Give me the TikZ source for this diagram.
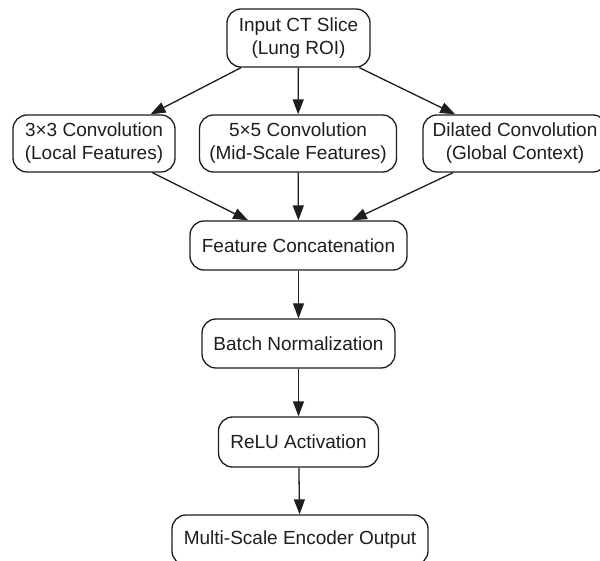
\documentclass[tikz,border=0pt]{standalone}
\usepackage{fontspec}
\setmainfont{Liberation Sans}
\usetikzlibrary{arrows.meta}
\definecolor{inkc}{HTML}{1E1E1E}
\begin{document}
\begin{tikzpicture}[x=1pt,y=-1pt,
  box/.style={draw=inkc, line width=1.3pt, rounded corners=14pt, align=center,
    inner sep=0pt, text=inkc, font=\fontsize{19}{23}\selectfont},
  flow/.style={draw=inkc, line width=1.3pt, -{Triangle[length=15pt,width=11pt]}}]
  \useasboundingbox (0,0) rectangle (600,561);
  \fill[white] (0,0) rectangle (600,561);

  % input and the three parallel convolution branches
  \node[box, minimum width=143pt, minimum height=58pt] (in) at (298.5,38) {Input CT Slice\\(Lung ROI)};
  \node[box, minimum width=162pt, minimum height=57pt] (c3) at (94,143.5) {3×3 Convolution\\(Local Features)};
  \node[box, minimum width=197pt, minimum height=57pt] (c5) at (298,143.5) {5×5 Convolution\\(Mid-Scale Features)};
  \node[box, minimum width=184pt, minimum height=57pt] (dl) at (515,143.5) {Dilated Convolution\\(Global Context)};

  % fused pipeline
  \node[box, minimum width=217pt, minimum height=49pt] (cat) at (298.5,245.5) {Feature Concatenation};
  \node[box, minimum width=193pt, minimum height=49pt] (bn) at (298.5,343.5) {Batch Normalization};
  \node[box, minimum width=160pt, minimum height=50pt] (relu) at (298.5,442) {ReLU Activation};
  \node[box, minimum width=256pt, minimum height=50pt] (out) at (300,540) {Multi-Scale Encoder Output};

  % connectors
  \draw[flow] (in) -- (c3);
  \draw[flow] (in) -- (c5);
  \draw[flow] (in) -- (dl);
  \draw[flow] (c3) -- (cat);
  \draw[flow] (c5) -- (cat);
  \draw[flow] (dl) -- (cat);
  \draw[flow] (cat) -- (bn);
  \draw[flow] (bn) -- (relu);
  \draw[flow] (relu) -- (out);
\end{tikzpicture}
\end{document}
